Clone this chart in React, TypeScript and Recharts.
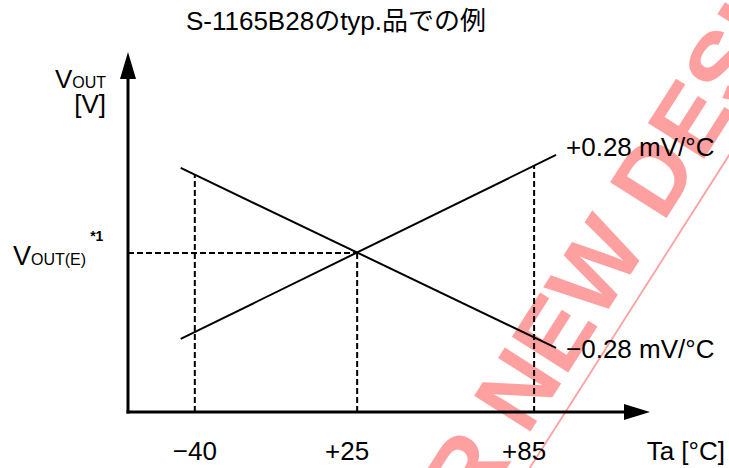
import React from "react";
import { LineChart, Line, XAxis, YAxis, ReferenceLine, ReferenceDot } from "recharts";

// schematic positions (0..100 along each axis)
const tickPos = [12.8, 43.9, 77.8];
const tickLabels = ["−40", "+25", "+85"];
const lineX = [10.1, 82.0];
const risingY = [20.3, 71.4];
const fallingY = [67.8, 17.8];
const refY = 44.2;
const guideTop = [65.9, 44.2, 68.4];
const slopeLabels = ["+0.28 mV/°C", "−0.28 mV/°C"];

const rising = lineX.map((x, i) => ({ x, y: risingY[i] }));
const falling = lineX.map((x, i) => ({ x, y: fallingY[i] }));

const FONT = '"Liberation Sans", Arial, sans-serif';
const PINK = "#ffa0a0";

function XTick(props: any) {
  const { x, y, payload } = props;
  const label = tickLabels[tickPos.indexOf(payload.value)] ?? "";
  const dx = label.startsWith("+") ? -10 : 0;
  return (
    <text x={x + dx} y={y + 48} textAnchor="middle" fontSize={26} fontFamily={FONT} fill="#000">
      {label}
    </text>
  );
}

function YTick(props: any) {
  const { x, y } = props;
  return (
    <text x={x - 115} y={y + 12} fontFamily={FONT} fill="#000">
      <tspan fontSize={27}>V</tspan>
      <tspan fontSize={16}>OUT(E)</tspan>
      <tspan fontSize={14} fontWeight="bold" dx={4} dy={-24}>*1</tspan>
    </text>
  );
}

function slopeLabel(text: string, dy: number) {
  return (p: any) => {
    if (p.index !== 1) return <g />;
    return (
      <text x={p.x + 10} y={p.y + dy} fontSize={26} fontFamily={FONT} fill="#000">
        {text}
      </text>
    );
  };
}

function ArrowRight(p: any) {
  const { cx, cy } = p;
  return <path d={`M${cx},${cy} L${cx - 26},${cy - 8} L${cx - 26},${cy + 8} Z`} fill="#000" />;
}

function ArrowUp(p: any) {
  const { cx, cy } = p;
  return <path d={`M${cx},${cy} L${cx - 8},${cy + 27} L${cx + 8},${cy + 27} Z`} fill="#000" />;
}

function Watermark() {
  return (
    <svg width={729} height={468} style={{ position: "absolute", left: 0, top: 0 }}>
      <text x={336} y={30} textAnchor="middle" fontSize={26} fill="#000"
        fontFamily='"Liberation Sans", Arial, "Noto Sans CJK JP", sans-serif'>
        S-1165B28のtyp.品での例
      </text>
      <g transform="translate(527,437) rotate(-57.5)" fill={PINK} fontFamily={FONT} fontWeight="bold" fontSize={97}>
        <text x={-27} y={0} textAnchor="end">NOT RECOMMENDED FOR</text>
        <text x={0} y={0}>NEW DESIGN</text>
        <line x1={-1200} y1={19} x2={1200} y2={19} stroke={PINK} strokeWidth={1.8} />
      </g>
    </svg>
  );
}

export default function App() {
  return (
    <div style={{ position: "absolute", left: 0, top: 0, width: 729, height: 468, background: "#fff" }}>
      <Watermark />
      <div style={{ position: "absolute", left: 0, top: 0 }}>
        <LineChart width={729} height={468} margin={{ top: 52, right: 79, bottom: 0, left: 0 }}>
          <XAxis
            type="number"
            dataKey="x"
            domain={[0, 100]}
            ticks={tickPos}
            axisLine={false}
            tickLine={false}
            tickSize={0}
            tickMargin={0}
            height={56}
            interval={0}
            tick={<XTick />}
            label={{
              content: (p: any) => (
                <text x={p.viewBox.x + p.viewBox.width + 75} y={p.viewBox.y + 48} textAnchor="end"
                  fontSize={26} fontFamily={FONT} fill="#000">
                  Ta [°C]
                </text>
              ),
            }}
          />
          <YAxis
            type="number"
            dataKey="y"
            domain={[0, 100]}
            ticks={[refY]}
            axisLine={false}
            tickLine={false}
            tickSize={0}
            tickMargin={0}
            width={128}
            interval={0}
            tick={<YTick />}
            label={{
              content: (p: any) => (
                <g fontFamily={FONT} fill="#000">
                  <text x={p.viewBox.x + 106} y={p.viewBox.y + 36} textAnchor="end">
                    <tspan fontSize={26}>V</tspan>
                    <tspan fontSize={16}>OUT</tspan>
                  </text>
                  <text x={p.viewBox.x + 106} y={p.viewBox.y + 61} textAnchor="end" fontSize={26}>
                    [V]
                  </text>
                </g>
              ),
            }}
          />

          {tickPos.map((x, i) => (
            <ReferenceLine key={`g${i}`} segment={[{ x, y: 0 }, { x, y: guideTop[i] }]}
              stroke="#000" strokeWidth={2} strokeDasharray="6 3" ifOverflow="visible" />
          ))}
          <ReferenceLine segment={[{ x: 0, y: refY }, { x: tickPos[1], y: refY }]}
            stroke="#000" strokeWidth={2} strokeDasharray="6 3" ifOverflow="visible" />

          <Line data={rising} dataKey="y" type="linear" stroke="#000" strokeWidth={2} dot={false}
            isAnimationActive={false} label={slopeLabel(slopeLabels[0], 1)} />
          <Line data={falling} dataKey="y" type="linear" stroke="#000" strokeWidth={2} dot={false}
            isAnimationActive={false} label={slopeLabel(slopeLabels[1], 10)} />

          <ReferenceLine segment={[{ x: 0, y: 0 }, { x: 96, y: 0 }]} stroke="#000" strokeWidth={3}
            strokeLinecap="square" ifOverflow="visible" />
          <ReferenceLine segment={[{ x: 0, y: 0 }, { x: 0, y: 93 }]} stroke="#000" strokeWidth={3}
            strokeLinecap="square" ifOverflow="visible" />
          <ReferenceDot x={100} y={0} r={0} ifOverflow="visible" shape={<ArrowRight />} />
          <ReferenceDot x={0} y={100} r={0} ifOverflow="visible" shape={<ArrowUp />} />
        </LineChart>
      </div>
    </div>
  );
}
